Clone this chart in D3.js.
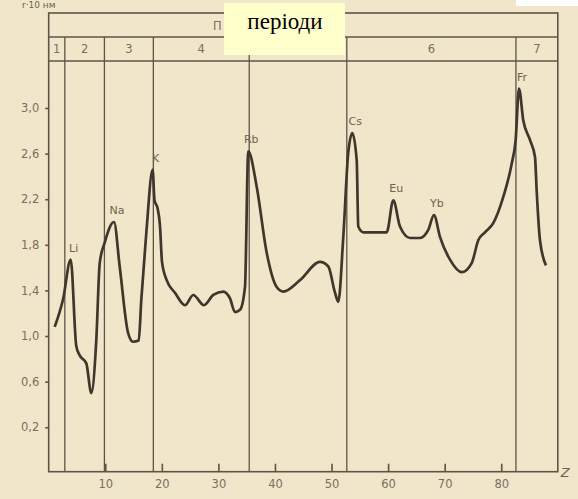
<!DOCTYPE html>
<html>
<head>
<meta charset="utf-8">
<script src="https://cdn.jsdelivr.net/npm/d3@7"></script>
<style>
    html, body { margin: 0; padding: 0; background: #f1e6ca; }
    svg { display: block; }
    .axis text { font-family: "DejaVu Sans", sans-serif; font-size: 11.5px; fill: #7b6f5d; }
    .axis path, .axis line { stroke: #5e5447; stroke-width: 1.6; }
    .frame { fill: none; stroke: #5e5447; stroke-width: 1.6; }
    .period-line { stroke: #5e5447; stroke-width: 1.3; }
    .period-label { font-family: "DejaVu Sans", sans-serif; font-size: 11.5px; fill: #7b6f5d; text-anchor: middle; }
    .element-label { font-family: "DejaVu Sans", sans-serif; font-size: 11px; fill: #6e6352; text-anchor: middle; }
    .curve { fill: none; stroke: #3f362c; stroke-width: 2.7; stroke-linejoin: round; }
</style>
</head>
<body>
<div id="chart"></div>
<script>
// atomic radius r (x10 nm) against atomic number Z
let curveZ = [1.06, 2.53, 3.89, 4.88, 5.48, 6.65, 7.53, 8.41, 9.02, 9.90,
    11.54, 12.55, 14.02, 14.90, 15.91, 16.37, 17.25, 18.38, 18.70, 19.25,
    19.67, 20.03, 20.86, 22.32, 24.09, 25.56, 27.45, 29.10, 30.86, 32.05,
    32.93, 33.82, 34.70, 35.28, 36.77, 38.54, 40.30, 41.47, 44.42, 47.96,
    49.43, 50.61, 51.19, 52.08, 52.96, 53.67, 54.45, 54.73, 55.61, 59.75,
    60.92, 62.10, 63.87, 65.64, 67.10, 68.11, 69.17, 70.94, 73.01, 74.78,
    75.94, 77.13, 78.59, 80.36, 81.85, 82.55, 83.14, 83.90, 85.08, 85.97,
    86.26, 86.85, 87.91];
let curveR = [1.08, 1.32, 1.67, 0.91, 0.83, 0.76, 0.50, 0.96, 1.64, 1.82,
    2.00, 1.61, 1.03, 0.95, 0.96, 1.32, 1.90, 2.46, 2.19, 2.12,
    1.97, 1.65, 1.49, 1.38, 1.27, 1.36, 1.27, 1.36, 1.39, 1.33,
    1.21, 1.23, 1.43, 2.62, 2.31, 1.73, 1.43, 1.39, 1.49, 1.65,
    1.61, 1.38, 1.30, 1.87, 2.61, 2.78, 2.54, 1.96, 1.91, 1.91,
    2.19, 1.96, 1.86, 1.86, 1.93, 2.06, 1.87, 1.67, 1.56, 1.64,
    1.84, 1.91, 1.99, 2.22, 2.51, 2.72, 3.17, 2.89, 2.72, 2.57,
    2.28, 1.84, 1.62];

let elementNames = ["Li", "Na", "K", "Rb", "Cs", "Eu", "Yb", "Fr"];
let elementZ = [3.89, 11.54, 18.38, 35.28, 53.67, 60.92, 68.11, 83.14];
let elementR = [1.67, 2.00, 2.46, 2.62, 2.78, 2.19, 2.06, 3.17];

// period borders on the Z axis as drawn
let periodBounds = [0, 2.85, 9.85, 18.5, 35.45, 52.7, 82.6, 90];
let periodLabels = ["1", "2", "3", "4", "5", "6", "7"];

let yTicks = [0.2, 0.6, 1.0, 1.4, 1.8, 2.2, 2.6, 3.0];
let xTicks = [10, 20, 30, 40, 50, 60, 70, 80];

let W = 578, H = 499;
let headTop = 13, headMid = 37, headBottom = 61;

let svg = d3.select("#chart").append("svg")
    .attr("width", W)
    .attr("height", H);

svg.append("rect")
    .attr("width", W).attr("height", H)
    .attr("fill", "#f1e6ca");

let x = d3.scaleLinear().domain([0, 90]).range([48.7, 557.8]);
let y = d3.scaleLinear().domain([-0.19, 3.4]).range([471.7, 62.4]);

// axis caption at the very top (cut by the scan edge in the original)
svg.append("text")
    .attr("x", 22).attr("y", 8)
    .style("font-family", "DejaVu Sans, sans-serif")
    .style("font-size", "9px")
    .style("fill", "#6e6352")
    .text("r·10 нм");

// header frame
svg.append("rect")
    .attr("class", "frame")
    .attr("x", x(0)).attr("y", headTop)
    .attr("width", x(90) - x(0))
    .attr("height", y.range()[0] - headTop);
svg.append("line").attr("class", "frame")
    .attr("x1", x(0)).attr("x2", x(90))
    .attr("y1", headMid).attr("y2", headMid);
svg.append("line").attr("class", "frame")
    .attr("x1", x(0)).attr("x2", x(90))
    .attr("y1", headBottom).attr("y2", headBottom);

// only the first letter of the printed heading peeks out from under the note
svg.append("text")
    .attr("class", "period-label")
    .attr("x", 213).attr("y", 30)
    .style("text-anchor", "start")
    .text("П");

svg.selectAll(".period-line")
    .data(periodBounds.slice(1, -1))
    .enter().append("line")
    .attr("class", "period-line")
    .attr("x1", d => x(d)).attr("x2", d => x(d))
    .attr("y1", headMid).attr("y2", y.range()[0]);

svg.selectAll(".period-num")
    .data(periodLabels)
    .enter().append("text")
    .attr("class", "period-label period-num")
    .attr("x", (d, i) => x((periodBounds[i] + periodBounds[i + 1]) / 2))
    .attr("y", (headMid + headBottom) / 2 + 4)
    .text(d => d);

// axes
svg.append("g")
    .attr("class", "axis y")
    .attr("transform", "translate(" + x(0) + ",0)")
    .call(d3.axisLeft(y)
        .tickValues(yTicks)
        .tickSize(3.5)
        .tickPadding(6)
        .tickFormat(d => d3.format(".1f")(d).replace(".", ",")))
    .call(g => g.select(".domain").remove());

svg.append("g")
    .attr("class", "axis x")
    .attr("transform", "translate(0," + y.range()[0] + ")")
    .call(d3.axisBottom(x)
        .tickValues(xTicks)
        .tickSizeInner(-8)
        .tickSizeOuter(0)
        .tickPadding(8)
        .tickFormat(d => d))
    .call(g => g.select(".domain").remove());

svg.append("text")
    .attr("x", x(90) + 3).attr("y", y.range()[0] + 5)
    .style("font-family", "DejaVu Sans, sans-serif")
    .style("font-size", "13px")
    .style("font-style", "italic")
    .style("fill", "#6e6352")
    .text("Z");

// the curve
let points = curveZ.map((z, i) => [z, curveR[i]]);
let line = d3.line()
    .x(d => x(d[0]))
    .y(d => y(d[1]))
    .curve(d3.curveMonotoneX);

svg.append("path")
    .datum(points)
    .attr("class", "curve")
    .attr("d", line);

svg.selectAll(".element-label.peak")
    .data(elementNames)
    .enter().append("text")
    .attr("class", "element-label peak")
    .attr("x", (d, i) => x(elementZ[i]) + 3)
    .attr("y", (d, i) => y(elementR[i]) - 8)
    .text(d => d);

// pasted note over the header and white corner of the scan
svg.append("rect")
    .attr("x", 224).attr("y", 3)
    .attr("width", 121).attr("height", 52)
    .attr("fill", "#ffffcc");
svg.append("text")
    .attr("x", 285).attr("y", 29)
    .style("font-family", "Liberation Serif, serif")
    .style("font-size", "23px")
    .style("fill", "#000")
    .style("text-anchor", "middle")
    .text("перiоди");
svg.append("rect")
    .attr("x", 516).attr("y", 0)
    .attr("width", 62).attr("height", 6)
    .attr("fill", "#ffffff");
</script>
</body>
</html>
